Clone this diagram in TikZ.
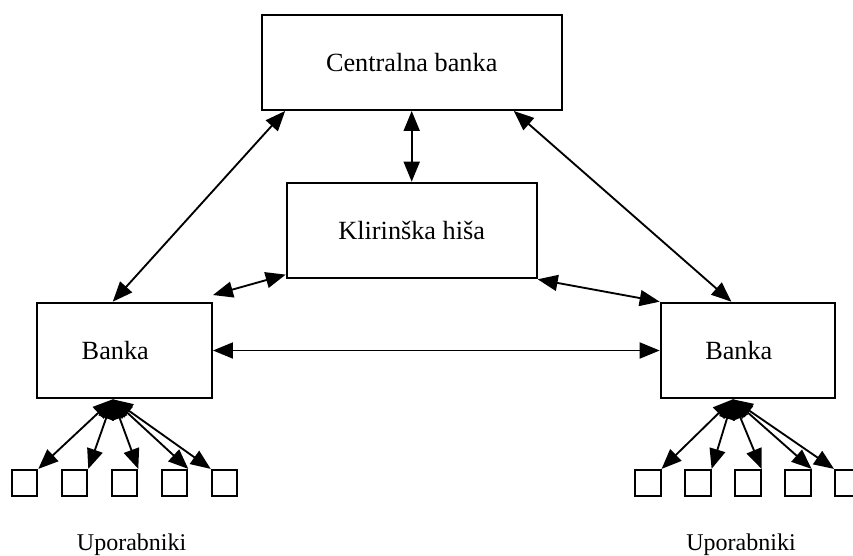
\documentclass[tikz,border=0pt]{standalone}
\usepackage{fontspec}
\setmainfont{Liberation Serif}
\usetikzlibrary{arrows.meta,calc}
\begin{document}
\begin{tikzpicture}[x=0.75pt,y=-0.75pt,
  box/.style={draw,line width=1.5pt,inner sep=0pt,font=\fontsize{19.7}{23}\selectfont},
  user/.style={draw,line width=1.5pt,inner sep=0pt,minimum size=19.2pt},
  link/.style={line width=1.4pt,{Triangle[length=15pt,width=12pt]}-{Triangle[length=15pt,width=12pt]}},
  lbl/.style={font=\fontsize{18}{22}\selectfont,anchor=base,inner sep=0pt}]
\useasboundingbox (0,0) rectangle (853,556);
\node[box,minimum width=225pt,minimum height=71.5pt] (cb) at (411.7,62.3) {Centralna banka};
\node[box,minimum width=187.5pt,minimum height=71.7pt] (kh) at (411.7,230.5) {Klirinška hiša};
\node[box,minimum width=131.5pt,minimum height=71.7pt] (lb) at (124.3,350.5) {Banka\hspace*{13.5pt}};
\node[box,minimum width=130.7pt,minimum height=71.7pt] (rb) at (747.8,350.5) {Banka\hspace*{13.5pt}};
% users
\foreach \i in {1,...,5} {
  \node[user] (l\i) at ({24.5+50*(\i-1)},482.7) {};
  \node[user] (r\i) at ({647.8+50*(\i-1)},482.7) {};
}
\node[lbl] (ul) at (131.6,550) {Uporabniki};
\node[lbl] (ur) at (741,550) {Uporabniki};
% coordinates on borders
\coordinate (lbt) at ($(lb.north west)!0.435!(lb.north east)$);
\coordinate (cbl) at ($(cb.south west)!0.081!(cb.south east)$);
\coordinate (cbr) at ($(cb.south west)!0.838!(cb.south east)$);
\coordinate (rbt) at ($(rb.north west)!0.407!(rb.north east)$);
\coordinate (lo) at ($(lb.south west)!0.435!(lb.south east)$);
\coordinate (ro) at ($(rb.south west)!0.415!(rb.south east)$);
% links
\draw[link] (lbt) -- (cbl);
\draw[link] (cb.south) -- (kh.north);
\draw[link] (cbr) -- (rbt);
\draw[link] ([yshift=5pt]lb.north east) -- ([yshift=3.5pt]kh.south west);
\draw[link] (kh.south east) -- (rb.north west);
\draw[link] (lb.east) -- (rb.west);
\foreach \i in {1,...,4} {
  \draw[link] (lo) -- (l\i.north east);
  \draw[link] (ro) -- (r\i.north east);
}
\draw[link] (lo) -- (l5.north west);
\draw[link] (ro) -- (r5.north west);
\end{tikzpicture}
\end{document}
